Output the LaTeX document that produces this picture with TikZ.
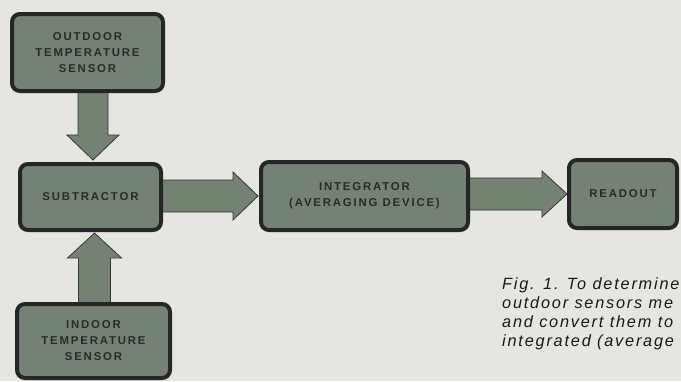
\documentclass[tikz,border=0pt]{standalone}
\usepackage{fontspec}
\setmainfont{Liberation Sans}
\newfontfamily\boxfont[LetterSpace=16]{Liberation Sans}
\newfontfamily\capfont[LetterSpace=11]{Liberation Sans}
\usetikzlibrary{calc,backgrounds}
\definecolor{bgpaper}{RGB}{229,229,225}
\definecolor{boxfill}{RGB}{118,129,117}
\definecolor{arrfill}{RGB}{116,129,115}
\definecolor{boxline}{RGB}{36,40,36}
\definecolor{boxtext}{RGB}{40,44,40}
\definecolor{captext}{RGB}{25,25,25}
\tikzset{
  blockbox/.style={draw=boxline, fill=boxfill, line width=4pt, rounded corners=8pt,
    align=center, text=boxtext, font=\boxfont\bfseries\fontsize{11.4}{16}\selectfont, inner sep=0pt},
  fatarrow/.style={fill=arrfill, draw=boxline!80!arrfill, line width=0.8pt, line join=miter},
  captionline/.style={anchor=base west, inner sep=0pt, text=captext,
    font=\capfont\itshape\fontsize{16.3}{19}\selectfont}
}
\newcommand\fatarr[4]{%
  \path (#2) coordinate (fB) (#1) coordinate (fA);
  \path ($(fB)!25pt!(fA)$) coordinate (fH);
  \filldraw[fatarrow] ($(fA)!#3!90:(fB)$) -- ($(fH)!#3!90:(fB)$) -- ($(fH)!#4!90:(fB)$)
    -- (fB) -- ($(fH)!#4!-90:(fB)$) -- ($(fH)!#3!-90:(fB)$) -- ($(fA)!#3!-90:(fB)$) -- cycle;}
\begin{document}
\begin{tikzpicture}[x=1pt,y=-1pt]
\useasboundingbox (0,0) rectangle (681,381);
\begin{pgfonlayer}{background}
  \fill[bgpaper] (0,0) rectangle (681,381);
\end{pgfonlayer}
\clip (0,0) rectangle (681,381);

\node[blockbox, minimum width=151pt, minimum height=77pt] (out) at (87.5,52.5)
  {OUTDOOR\\TEMPERATURE\\SENSOR};
\node[blockbox, minimum width=141pt, minimum height=66pt] (sub) at (90.5,197)
  {SUBTRACTOR};
\node[blockbox, minimum width=153pt, minimum height=74pt] (ind) at (93.5,341)
  {INDOOR\\TEMPERATURE\\SENSOR};
\node[blockbox, minimum width=207pt, minimum height=68pt] (integ) at (364.5,196)
  {INTEGRATOR\\(AVERAGING DEVICE)};
\node[blockbox, minimum width=108pt, minimum height=68pt] (read) at (623,194)
  {READOUT};

\begin{pgfonlayer}{background}
  \fatarr{$(out.south)+(5.5,-3)$}{$(sub.north)+(2.5,-2)$}{15pt}{26pt}
  \fatarr{$(ind.north)+(1,3)$}{$(sub.south)+(4,1)$}{16pt}{27pt}
  \fatarr{$(sub.east)+(-3,-1)$}{$(integ.west)+(-1,0)$}{16pt}{24pt}
  \fatarr{$(integ.east)+(-3,-2)$}{$(read.west)+(0,0)$}{16pt}{23pt}
\end{pgfonlayer}

\node[captionline] (cap1) at (502,289) {Fig. 1. To determine};
\node[captionline] (cap2) at (502,308) {outdoor sensors me};
\node[captionline] (cap3) at (502,327) {and convert them to};
\node[captionline] (cap4) at (502,346) {integrated (average};
\end{tikzpicture}
\end{document}
